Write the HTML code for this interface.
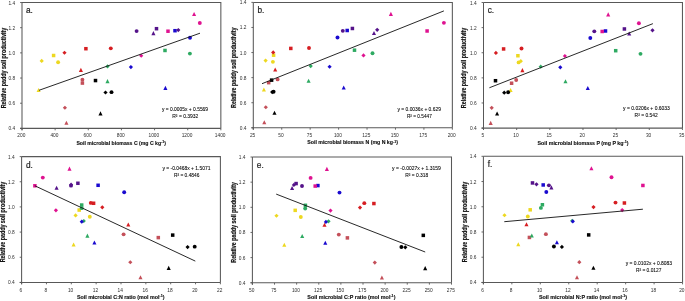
<!DOCTYPE html>
<html><head><meta charset="utf-8"><style>
html,body{margin:0;padding:0;background:#fff;width:685px;height:301px;overflow:hidden}
svg{display:block;will-change:transform;filter:blur(0.25px);font-family:"Liberation Sans",sans-serif}
</style></head><body>
<svg width="685" height="301" viewBox="0 0 685 301">
<rect width="685" height="301" fill="#fff"/>
<path d="M22.00 2.50 H220.85 V128.40" fill="none" stroke="#585858" stroke-width="1.05"/>
<path d="M22.00 2.50 V130.30" fill="none" stroke="#585858" stroke-width="1.05"/>
<path d="M20.10 128.40 H220.85" fill="none" stroke="#585858" stroke-width="1.05"/>
<path d="M20.10 2.50 H22.00" stroke="#585858" stroke-width="0.9"/>
<text x="15.10" y="4.50" font-size="5.6" fill="#2e2e2e" text-anchor="end" textLength="6.69" lengthAdjust="spacingAndGlyphs">1.4</text>
<path d="M20.10 27.68 H22.00" stroke="#585858" stroke-width="0.9"/>
<text x="15.10" y="29.68" font-size="5.6" fill="#2e2e2e" text-anchor="end" textLength="6.69" lengthAdjust="spacingAndGlyphs">1.2</text>
<path d="M20.10 52.86 H22.00" stroke="#585858" stroke-width="0.9"/>
<text x="15.10" y="54.86" font-size="5.6" fill="#2e2e2e" text-anchor="end" textLength="6.69" lengthAdjust="spacingAndGlyphs">1.0</text>
<path d="M20.10 78.04 H22.00" stroke="#585858" stroke-width="0.9"/>
<text x="15.10" y="80.04" font-size="5.6" fill="#2e2e2e" text-anchor="end" textLength="6.69" lengthAdjust="spacingAndGlyphs">0.8</text>
<path d="M20.10 103.22 H22.00" stroke="#585858" stroke-width="0.9"/>
<text x="15.10" y="105.22" font-size="5.6" fill="#2e2e2e" text-anchor="end" textLength="6.69" lengthAdjust="spacingAndGlyphs">0.6</text>
<path d="M20.10 128.40 H22.00" stroke="#585858" stroke-width="0.9"/>
<text x="15.10" y="130.40" font-size="5.6" fill="#2e2e2e" text-anchor="end" textLength="6.69" lengthAdjust="spacingAndGlyphs">0.4</text>
<path d="M22.00 128.40 V130.30" stroke="#585858" stroke-width="0.9"/>
<text x="21.30" y="136.90" font-size="5.6" fill="#2e2e2e" text-anchor="middle" textLength="8.03" lengthAdjust="spacingAndGlyphs">200</text>
<path d="M55.14 128.40 V130.30" stroke="#585858" stroke-width="0.9"/>
<text x="54.44" y="136.90" font-size="5.6" fill="#2e2e2e" text-anchor="middle" textLength="8.03" lengthAdjust="spacingAndGlyphs">400</text>
<path d="M88.28 128.40 V130.30" stroke="#585858" stroke-width="0.9"/>
<text x="87.58" y="136.90" font-size="5.6" fill="#2e2e2e" text-anchor="middle" textLength="8.03" lengthAdjust="spacingAndGlyphs">600</text>
<path d="M121.42 128.40 V130.30" stroke="#585858" stroke-width="0.9"/>
<text x="120.72" y="136.90" font-size="5.6" fill="#2e2e2e" text-anchor="middle" textLength="8.03" lengthAdjust="spacingAndGlyphs">800</text>
<path d="M154.57 128.40 V130.30" stroke="#585858" stroke-width="0.9"/>
<text x="153.87" y="136.90" font-size="5.6" fill="#2e2e2e" text-anchor="middle" textLength="10.71" lengthAdjust="spacingAndGlyphs">1000</text>
<path d="M187.71 128.40 V130.30" stroke="#585858" stroke-width="0.9"/>
<text x="187.01" y="136.90" font-size="5.6" fill="#2e2e2e" text-anchor="middle" textLength="10.71" lengthAdjust="spacingAndGlyphs">1200</text>
<path d="M220.85 128.40 V130.30" stroke="#585858" stroke-width="0.9"/>
<text x="220.15" y="136.90" font-size="5.6" fill="#2e2e2e" text-anchor="middle" textLength="10.71" lengthAdjust="spacingAndGlyphs">1400</text>
<text x="76.40" y="144.80" font-size="5.8" font-weight="bold" fill="#111" stroke="#111" stroke-width="0.14" textLength="89.60" lengthAdjust="spacingAndGlyphs">Soil microbial biomass C (mg C kg<tspan font-size="4.0" dy="-1.7">-1</tspan><tspan dy="1.7">)</tspan></text>
<text transform="translate(5.70,68.05) rotate(-90)" x="0" y="0" font-size="6.3" font-weight="bold" fill="#111" stroke="#111" stroke-width="0.18" text-anchor="middle" textLength="80.5" lengthAdjust="spacingAndGlyphs">Relative paddy soil productivity</text>
<text x="26.00" y="13.00" font-size="8.3" fill="#222" stroke="#222" stroke-width="0.2">a.</text>
<polygon points="38.60,87.89 40.64,91.97 36.56,91.97" fill="#EDD820"/>
<polygon points="41.70,58.82 43.80,60.92 41.70,63.02 39.60,60.92" fill="#EDD820"/>
<rect x="51.85" y="53.75" width="3.50" height="3.50" fill="#EDD820"/>
<circle cx="58.10" cy="62.18" r="1.95" fill="#EDD820"/>
<polygon points="64.50,50.63 66.60,52.73 64.50,54.83 62.40,52.73" fill="#D61E22"/>
<rect x="84.15" y="46.96" width="3.50" height="3.50" fill="#D61E22"/>
<circle cx="110.80" cy="48.33" r="1.95" fill="#D61E22"/>
<polygon points="80.90,67.87 82.94,71.95 78.86,71.95" fill="#D61E22"/>
<circle cx="82.40" cy="79.80" r="1.95" fill="#C4505A"/>
<rect x="80.65" y="81.33" width="3.50" height="3.50" fill="#C4505A"/>
<polygon points="64.90,105.65 67.00,107.75 64.90,109.85 62.80,107.75" fill="#C4505A"/>
<polygon points="66.40,120.75 68.44,124.83 64.36,124.83" fill="#C4505A"/>
<rect x="93.75" y="78.81" width="3.50" height="3.50" fill="#000000"/>
<polygon points="105.50,90.42 107.60,92.52 105.50,94.62 103.40,92.52" fill="#000000"/>
<circle cx="111.50" cy="92.14" r="1.95" fill="#000000"/>
<polygon points="100.50,111.30 102.54,115.39 98.46,115.39" fill="#000000"/>
<polygon points="107.50,64.36 109.60,66.46 107.50,68.56 105.40,66.46" fill="#2EAA62"/>
<polygon points="107.50,79.07 109.54,83.16 105.46,83.16" fill="#2EAA62"/>
<rect x="163.25" y="48.72" width="3.50" height="3.50" fill="#2EAA62"/>
<circle cx="189.90" cy="53.62" r="1.95" fill="#2EAA62"/>
<polygon points="130.90,64.99 133.00,67.09 130.90,69.19 128.80,67.09" fill="#1A0ACF"/>
<circle cx="190.00" cy="37.75" r="1.95" fill="#1A0ACF"/>
<polygon points="165.40,85.87 167.44,89.96 163.36,89.96" fill="#1A0ACF"/>
<rect x="173.25" y="28.95" width="3.50" height="3.50" fill="#1A0ACF"/>
<circle cx="136.60" cy="31.08" r="1.95" fill="#55138A"/>
<polygon points="153.40,31.11 155.44,35.19 151.36,35.19" fill="#55138A"/>
<rect x="154.75" y="26.94" width="3.50" height="3.50" fill="#55138A"/>
<polygon points="178.30,27.97 180.40,30.07 178.30,32.17 176.20,30.07" fill="#55138A"/>
<polygon points="141.20,53.66 143.30,55.76 141.20,57.86 139.10,55.76" fill="#DF1290"/>
<rect x="166.25" y="29.46" width="3.50" height="3.50" fill="#DF1290"/>
<polygon points="194.10,11.97 196.14,16.05 192.06,16.05" fill="#DF1290"/>
<circle cx="199.80" cy="23.02" r="1.95" fill="#DF1290"/>
<line x1="39.0" y1="90.30" x2="200.0" y2="33.20" stroke="#151515" stroke-width="0.92"/>
<text x="161.90" y="111.10" font-size="5.5" fill="#000" stroke="#000" stroke-width="0.08" textLength="46.20" lengthAdjust="spacingAndGlyphs">y = 0.0005x + 0.5569</text>
<text x="172.30" y="118.30" font-size="5.5" fill="#000" stroke="#000" stroke-width="0.08" textLength="26.00" lengthAdjust="spacingAndGlyphs">R² = 0.3932</text>
<path d="M253.30 2.40 H452.35 V127.80" fill="none" stroke="#585858" stroke-width="1.05"/>
<path d="M253.30 2.40 V129.70" fill="none" stroke="#585858" stroke-width="1.05"/>
<path d="M251.40 127.80 H452.35" fill="none" stroke="#585858" stroke-width="1.05"/>
<path d="M251.40 2.40 H253.30" stroke="#585858" stroke-width="0.9"/>
<text x="246.40" y="4.40" font-size="5.6" fill="#2e2e2e" text-anchor="end" textLength="6.69" lengthAdjust="spacingAndGlyphs">1.4</text>
<path d="M251.40 27.48 H253.30" stroke="#585858" stroke-width="0.9"/>
<text x="246.40" y="29.48" font-size="5.6" fill="#2e2e2e" text-anchor="end" textLength="6.69" lengthAdjust="spacingAndGlyphs">1.2</text>
<path d="M251.40 52.56 H253.30" stroke="#585858" stroke-width="0.9"/>
<text x="246.40" y="54.56" font-size="5.6" fill="#2e2e2e" text-anchor="end" textLength="6.69" lengthAdjust="spacingAndGlyphs">1.0</text>
<path d="M251.40 77.64 H253.30" stroke="#585858" stroke-width="0.9"/>
<text x="246.40" y="79.64" font-size="5.6" fill="#2e2e2e" text-anchor="end" textLength="6.69" lengthAdjust="spacingAndGlyphs">0.8</text>
<path d="M251.40 102.72 H253.30" stroke="#585858" stroke-width="0.9"/>
<text x="246.40" y="104.72" font-size="5.6" fill="#2e2e2e" text-anchor="end" textLength="6.69" lengthAdjust="spacingAndGlyphs">0.6</text>
<path d="M251.40 127.80 H253.30" stroke="#585858" stroke-width="0.9"/>
<text x="246.40" y="129.80" font-size="5.6" fill="#2e2e2e" text-anchor="end" textLength="6.69" lengthAdjust="spacingAndGlyphs">0.4</text>
<path d="M253.30 127.80 V129.70" stroke="#585858" stroke-width="0.9"/>
<text x="252.60" y="136.90" font-size="5.6" fill="#2e2e2e" text-anchor="middle" textLength="5.36" lengthAdjust="spacingAndGlyphs">25</text>
<path d="M281.74 127.80 V129.70" stroke="#585858" stroke-width="0.9"/>
<text x="281.04" y="136.90" font-size="5.6" fill="#2e2e2e" text-anchor="middle" textLength="5.36" lengthAdjust="spacingAndGlyphs">50</text>
<path d="M310.17 127.80 V129.70" stroke="#585858" stroke-width="0.9"/>
<text x="309.47" y="136.90" font-size="5.6" fill="#2e2e2e" text-anchor="middle" textLength="5.36" lengthAdjust="spacingAndGlyphs">75</text>
<path d="M338.61 127.80 V129.70" stroke="#585858" stroke-width="0.9"/>
<text x="337.91" y="136.90" font-size="5.6" fill="#2e2e2e" text-anchor="middle" textLength="8.03" lengthAdjust="spacingAndGlyphs">100</text>
<path d="M367.04 127.80 V129.70" stroke="#585858" stroke-width="0.9"/>
<text x="366.34" y="136.90" font-size="5.6" fill="#2e2e2e" text-anchor="middle" textLength="8.03" lengthAdjust="spacingAndGlyphs">125</text>
<path d="M395.48 127.80 V129.70" stroke="#585858" stroke-width="0.9"/>
<text x="394.78" y="136.90" font-size="5.6" fill="#2e2e2e" text-anchor="middle" textLength="8.03" lengthAdjust="spacingAndGlyphs">150</text>
<path d="M423.91 127.80 V129.70" stroke="#585858" stroke-width="0.9"/>
<text x="423.21" y="136.90" font-size="5.6" fill="#2e2e2e" text-anchor="middle" textLength="8.03" lengthAdjust="spacingAndGlyphs">175</text>
<path d="M452.35 127.80 V129.70" stroke="#585858" stroke-width="0.9"/>
<text x="451.65" y="136.90" font-size="5.6" fill="#2e2e2e" text-anchor="middle" textLength="8.03" lengthAdjust="spacingAndGlyphs">200</text>
<text x="307.30" y="144.20" font-size="5.8" font-weight="bold" fill="#111" stroke="#111" stroke-width="0.14" textLength="90.60" lengthAdjust="spacingAndGlyphs">Soil microbial biomass N (mg N kg<tspan font-size="4.0" dy="-1.7">-1</tspan><tspan dy="1.7">)</tspan></text>
<text transform="translate(236.40,67.70) rotate(-90)" x="0" y="0" font-size="6.3" font-weight="bold" fill="#111" stroke="#111" stroke-width="0.18" text-anchor="middle" textLength="80.5" lengthAdjust="spacingAndGlyphs">Relative paddy soil productivity</text>
<text x="257.40" y="12.90" font-size="8.3" fill="#222" stroke="#222" stroke-width="0.2">b.</text>
<polygon points="263.90,87.44 265.94,91.52 261.86,91.52" fill="#EDD820"/>
<polygon points="265.60,58.49 267.70,60.59 265.60,62.69 263.50,60.59" fill="#EDD820"/>
<rect x="271.85" y="53.44" width="3.50" height="3.50" fill="#EDD820"/>
<circle cx="272.90" cy="61.84" r="1.95" fill="#EDD820"/>
<polygon points="273.20,50.33 275.30,52.43 273.20,54.53 271.10,52.43" fill="#D61E22"/>
<rect x="289.05" y="46.67" width="3.50" height="3.50" fill="#D61E22"/>
<circle cx="309.00" cy="48.05" r="1.95" fill="#D61E22"/>
<polygon points="275.20,67.50 277.24,71.59 273.16,71.59" fill="#D61E22"/>
<circle cx="277.60" cy="79.40" r="1.95" fill="#C4505A"/>
<rect x="266.95" y="80.91" width="3.50" height="3.50" fill="#C4505A"/>
<polygon points="265.80,105.13 267.90,107.23 265.80,109.33 263.70,107.23" fill="#C4505A"/>
<polygon points="264.30,120.17 266.34,124.25 262.26,124.25" fill="#C4505A"/>
<rect x="269.85" y="78.40" width="3.50" height="3.50" fill="#000000"/>
<polygon points="272.20,89.96 274.30,92.06 272.20,94.16 270.10,92.06" fill="#000000"/>
<circle cx="273.60" cy="91.68" r="1.95" fill="#000000"/>
<polygon points="274.50,110.76 276.54,114.85 272.46,114.85" fill="#000000"/>
<polygon points="310.70,64.00 312.80,66.10 310.70,68.20 308.60,66.10" fill="#2EAA62"/>
<polygon points="308.60,78.66 310.64,82.75 306.56,82.75" fill="#2EAA62"/>
<rect x="352.75" y="48.43" width="3.50" height="3.50" fill="#2EAA62"/>
<circle cx="372.50" cy="53.31" r="1.95" fill="#2EAA62"/>
<polygon points="329.60,64.63 331.70,66.73 329.60,68.83 327.50,66.73" fill="#1A0ACF"/>
<circle cx="337.50" cy="37.51" r="1.95" fill="#1A0ACF"/>
<polygon points="343.70,85.43 345.74,89.52 341.66,89.52" fill="#1A0ACF"/>
<rect x="345.45" y="28.74" width="3.50" height="3.50" fill="#1A0ACF"/>
<circle cx="342.80" cy="30.87" r="1.95" fill="#55138A"/>
<polygon points="374.00,30.88 376.04,34.97 371.96,34.97" fill="#55138A"/>
<rect x="350.65" y="26.73" width="3.50" height="3.50" fill="#55138A"/>
<polygon points="377.20,27.76 379.30,29.86 377.20,31.96 375.10,29.86" fill="#55138A"/>
<polygon points="363.50,53.34 365.60,55.44 363.50,57.54 361.40,55.44" fill="#DF1290"/>
<rect x="425.35" y="29.24" width="3.50" height="3.50" fill="#DF1290"/>
<polygon points="390.90,11.82 392.94,15.91 388.86,15.91" fill="#DF1290"/>
<circle cx="443.90" cy="22.84" r="1.95" fill="#DF1290"/>
<line x1="262.0" y1="83.70" x2="443.9" y2="10.90" stroke="#151515" stroke-width="0.92"/>
<text x="397.50" y="110.90" font-size="5.5" fill="#000" stroke="#000" stroke-width="0.08" textLength="43.40" lengthAdjust="spacingAndGlyphs">y = 0.0036x + 0.629</text>
<text x="406.90" y="117.70" font-size="5.5" fill="#000" stroke="#000" stroke-width="0.08" textLength="24.90" lengthAdjust="spacingAndGlyphs">R² = 0.5447</text>
<path d="M483.50 2.50 H682.45 V128.10" fill="none" stroke="#585858" stroke-width="1.05"/>
<path d="M483.50 2.50 V130.00" fill="none" stroke="#585858" stroke-width="1.05"/>
<path d="M481.60 128.10 H682.45" fill="none" stroke="#585858" stroke-width="1.05"/>
<path d="M481.60 2.50 H483.50" stroke="#585858" stroke-width="0.9"/>
<text x="476.60" y="4.50" font-size="5.6" fill="#2e2e2e" text-anchor="end" textLength="6.69" lengthAdjust="spacingAndGlyphs">1.4</text>
<path d="M481.60 27.62 H483.50" stroke="#585858" stroke-width="0.9"/>
<text x="476.60" y="29.62" font-size="5.6" fill="#2e2e2e" text-anchor="end" textLength="6.69" lengthAdjust="spacingAndGlyphs">1.2</text>
<path d="M481.60 52.74 H483.50" stroke="#585858" stroke-width="0.9"/>
<text x="476.60" y="54.74" font-size="5.6" fill="#2e2e2e" text-anchor="end" textLength="6.69" lengthAdjust="spacingAndGlyphs">1.0</text>
<path d="M481.60 77.86 H483.50" stroke="#585858" stroke-width="0.9"/>
<text x="476.60" y="79.86" font-size="5.6" fill="#2e2e2e" text-anchor="end" textLength="6.69" lengthAdjust="spacingAndGlyphs">0.8</text>
<path d="M481.60 102.98 H483.50" stroke="#585858" stroke-width="0.9"/>
<text x="476.60" y="104.98" font-size="5.6" fill="#2e2e2e" text-anchor="end" textLength="6.69" lengthAdjust="spacingAndGlyphs">0.6</text>
<path d="M481.60 128.10 H483.50" stroke="#585858" stroke-width="0.9"/>
<text x="476.60" y="130.10" font-size="5.6" fill="#2e2e2e" text-anchor="end" textLength="6.69" lengthAdjust="spacingAndGlyphs">0.4</text>
<path d="M483.50 128.10 V130.00" stroke="#585858" stroke-width="0.9"/>
<text x="482.80" y="136.90" font-size="5.6" fill="#2e2e2e" text-anchor="middle" textLength="2.68" lengthAdjust="spacingAndGlyphs">5</text>
<path d="M516.66 128.10 V130.00" stroke="#585858" stroke-width="0.9"/>
<text x="515.96" y="136.90" font-size="5.6" fill="#2e2e2e" text-anchor="middle" textLength="5.36" lengthAdjust="spacingAndGlyphs">10</text>
<path d="M549.82 128.10 V130.00" stroke="#585858" stroke-width="0.9"/>
<text x="549.12" y="136.90" font-size="5.6" fill="#2e2e2e" text-anchor="middle" textLength="5.36" lengthAdjust="spacingAndGlyphs">15</text>
<path d="M582.98 128.10 V130.00" stroke="#585858" stroke-width="0.9"/>
<text x="582.27" y="136.90" font-size="5.6" fill="#2e2e2e" text-anchor="middle" textLength="5.36" lengthAdjust="spacingAndGlyphs">20</text>
<path d="M616.13 128.10 V130.00" stroke="#585858" stroke-width="0.9"/>
<text x="615.43" y="136.90" font-size="5.6" fill="#2e2e2e" text-anchor="middle" textLength="5.36" lengthAdjust="spacingAndGlyphs">25</text>
<path d="M649.29 128.10 V130.00" stroke="#585858" stroke-width="0.9"/>
<text x="648.59" y="136.90" font-size="5.6" fill="#2e2e2e" text-anchor="middle" textLength="5.36" lengthAdjust="spacingAndGlyphs">30</text>
<path d="M682.45 128.10 V130.00" stroke="#585858" stroke-width="0.9"/>
<text x="681.75" y="136.90" font-size="5.6" fill="#2e2e2e" text-anchor="middle" textLength="5.36" lengthAdjust="spacingAndGlyphs">35</text>
<text x="537.60" y="144.50" font-size="5.8" font-weight="bold" fill="#111" stroke="#111" stroke-width="0.14" textLength="90.90" lengthAdjust="spacingAndGlyphs">Soil microbial biomass P (mg P kg<tspan font-size="4.0" dy="-1.7">-1</tspan><tspan dy="1.7">)</tspan></text>
<text transform="translate(466.30,67.90) rotate(-90)" x="0" y="0" font-size="6.3" font-weight="bold" fill="#111" stroke="#111" stroke-width="0.18" text-anchor="middle" textLength="80.5" lengthAdjust="spacingAndGlyphs">Relative paddy soil productivity</text>
<text x="487.70" y="13.10" font-size="8.3" fill="#222" stroke="#222" stroke-width="0.2">c.</text>
<polygon points="510.60,88.03 512.64,92.11 508.56,92.11" fill="#EDD820"/>
<polygon points="520.80,59.03 522.90,61.13 520.80,63.23 518.70,61.13" fill="#EDD820"/>
<rect x="516.15" y="53.98" width="3.50" height="3.50" fill="#EDD820"/>
<circle cx="518.60" cy="62.38" r="1.95" fill="#EDD820"/>
<polygon points="495.90,50.86 498.00,52.96 495.90,55.06 493.80,52.96" fill="#D61E22"/>
<rect x="501.85" y="47.20" width="3.50" height="3.50" fill="#D61E22"/>
<circle cx="521.50" cy="48.57" r="1.95" fill="#D61E22"/>
<polygon points="522.40,68.06 524.44,72.14 520.36,72.14" fill="#D61E22"/>
<circle cx="516.20" cy="79.97" r="1.95" fill="#C4505A"/>
<rect x="509.85" y="81.48" width="3.50" height="3.50" fill="#C4505A"/>
<polygon points="491.70,105.75 493.80,107.85 491.70,109.95 489.60,107.85" fill="#C4505A"/>
<polygon points="490.70,120.81 492.74,124.89 488.66,124.89" fill="#C4505A"/>
<rect x="493.75" y="78.97" width="3.50" height="3.50" fill="#000000"/>
<polygon points="504.20,90.55 506.30,92.65 504.20,94.75 502.10,92.65" fill="#000000"/>
<circle cx="508.10" cy="92.28" r="1.95" fill="#000000"/>
<polygon points="497.10,111.39 499.14,115.47 495.06,115.47" fill="#000000"/>
<polygon points="540.70,64.55 542.80,66.65 540.70,68.75 538.60,66.65" fill="#2EAA62"/>
<polygon points="565.50,79.24 567.54,83.32 563.46,83.32" fill="#2EAA62"/>
<rect x="613.95" y="48.95" width="3.50" height="3.50" fill="#2EAA62"/>
<circle cx="640.50" cy="53.84" r="1.95" fill="#2EAA62"/>
<polygon points="560.30,65.18 562.40,67.28 560.30,69.38 558.20,67.28" fill="#1A0ACF"/>
<circle cx="590.30" cy="38.02" r="1.95" fill="#1A0ACF"/>
<polygon points="587.80,86.02 589.84,90.10 585.76,90.10" fill="#1A0ACF"/>
<rect x="603.75" y="29.23" width="3.50" height="3.50" fill="#1A0ACF"/>
<circle cx="594.30" cy="31.36" r="1.95" fill="#55138A"/>
<polygon points="629.20,31.38 631.24,35.47 627.16,35.47" fill="#55138A"/>
<rect x="622.65" y="27.22" width="3.50" height="3.50" fill="#55138A"/>
<polygon points="652.50,28.26 654.60,30.36 652.50,32.46 650.40,30.36" fill="#55138A"/>
<polygon points="564.90,53.88 567.00,55.98 564.90,58.08 562.80,55.98" fill="#DF1290"/>
<rect x="600.45" y="29.74" width="3.50" height="3.50" fill="#DF1290"/>
<polygon points="608.20,12.29 610.24,16.38 606.16,16.38" fill="#DF1290"/>
<circle cx="638.90" cy="23.32" r="1.95" fill="#DF1290"/>
<line x1="489.4" y1="87.75" x2="652.9" y2="23.65" stroke="#151515" stroke-width="0.92"/>
<text x="623.10" y="110.20" font-size="5.5" fill="#000" stroke="#000" stroke-width="0.08" textLength="46.80" lengthAdjust="spacingAndGlyphs">y = 0.0206x + 0.6033</text>
<text x="634.60" y="117.00" font-size="5.5" fill="#000" stroke="#000" stroke-width="0.08" textLength="23.20" lengthAdjust="spacingAndGlyphs">R² = 0.542</text>
<path d="M21.60 156.60 H220.40 V282.40" fill="none" stroke="#585858" stroke-width="1.05"/>
<path d="M21.60 156.60 V284.30" fill="none" stroke="#585858" stroke-width="1.05"/>
<path d="M19.70 282.40 H220.40" fill="none" stroke="#585858" stroke-width="1.05"/>
<path d="M19.70 156.60 H21.60" stroke="#585858" stroke-width="0.9"/>
<text x="14.70" y="158.60" font-size="5.6" fill="#2e2e2e" text-anchor="end" textLength="6.69" lengthAdjust="spacingAndGlyphs">1.4</text>
<path d="M19.70 181.76 H21.60" stroke="#585858" stroke-width="0.9"/>
<text x="14.70" y="183.76" font-size="5.6" fill="#2e2e2e" text-anchor="end" textLength="6.69" lengthAdjust="spacingAndGlyphs">1.2</text>
<path d="M19.70 206.92 H21.60" stroke="#585858" stroke-width="0.9"/>
<text x="14.70" y="208.92" font-size="5.6" fill="#2e2e2e" text-anchor="end" textLength="6.69" lengthAdjust="spacingAndGlyphs">1.0</text>
<path d="M19.70 232.08 H21.60" stroke="#585858" stroke-width="0.9"/>
<text x="14.70" y="234.08" font-size="5.6" fill="#2e2e2e" text-anchor="end" textLength="6.69" lengthAdjust="spacingAndGlyphs">0.8</text>
<path d="M19.70 257.24 H21.60" stroke="#585858" stroke-width="0.9"/>
<text x="14.70" y="259.24" font-size="5.6" fill="#2e2e2e" text-anchor="end" textLength="6.69" lengthAdjust="spacingAndGlyphs">0.6</text>
<path d="M19.70 282.40 H21.60" stroke="#585858" stroke-width="0.9"/>
<text x="14.70" y="284.40" font-size="5.6" fill="#2e2e2e" text-anchor="end" textLength="6.69" lengthAdjust="spacingAndGlyphs">0.4</text>
<path d="M21.60 282.40 V284.30" stroke="#585858" stroke-width="0.9"/>
<text x="20.90" y="291.50" font-size="5.6" fill="#2e2e2e" text-anchor="middle" textLength="2.68" lengthAdjust="spacingAndGlyphs">6</text>
<path d="M46.45 282.40 V284.30" stroke="#585858" stroke-width="0.9"/>
<text x="45.75" y="291.50" font-size="5.6" fill="#2e2e2e" text-anchor="middle" textLength="2.68" lengthAdjust="spacingAndGlyphs">8</text>
<path d="M71.30 282.40 V284.30" stroke="#585858" stroke-width="0.9"/>
<text x="70.60" y="291.50" font-size="5.6" fill="#2e2e2e" text-anchor="middle" textLength="5.36" lengthAdjust="spacingAndGlyphs">10</text>
<path d="M96.15 282.40 V284.30" stroke="#585858" stroke-width="0.9"/>
<text x="95.45" y="291.50" font-size="5.6" fill="#2e2e2e" text-anchor="middle" textLength="5.36" lengthAdjust="spacingAndGlyphs">12</text>
<path d="M121.00 282.40 V284.30" stroke="#585858" stroke-width="0.9"/>
<text x="120.30" y="291.50" font-size="5.6" fill="#2e2e2e" text-anchor="middle" textLength="5.36" lengthAdjust="spacingAndGlyphs">14</text>
<path d="M145.85 282.40 V284.30" stroke="#585858" stroke-width="0.9"/>
<text x="145.15" y="291.50" font-size="5.6" fill="#2e2e2e" text-anchor="middle" textLength="5.36" lengthAdjust="spacingAndGlyphs">16</text>
<path d="M170.70 282.40 V284.30" stroke="#585858" stroke-width="0.9"/>
<text x="170.00" y="291.50" font-size="5.6" fill="#2e2e2e" text-anchor="middle" textLength="5.36" lengthAdjust="spacingAndGlyphs">18</text>
<path d="M195.55 282.40 V284.30" stroke="#585858" stroke-width="0.9"/>
<text x="194.85" y="291.50" font-size="5.6" fill="#2e2e2e" text-anchor="middle" textLength="5.36" lengthAdjust="spacingAndGlyphs">20</text>
<path d="M220.40 282.40 V284.30" stroke="#585858" stroke-width="0.9"/>
<text x="219.70" y="291.50" font-size="5.6" fill="#2e2e2e" text-anchor="middle" textLength="5.36" lengthAdjust="spacingAndGlyphs">22</text>
<text x="76.90" y="298.80" font-size="5.8" font-weight="bold" fill="#111" stroke="#111" stroke-width="0.14" textLength="87.60" lengthAdjust="spacingAndGlyphs">Soil microbial C:N ratio (mol mol<tspan font-size="4.0" dy="-1.7">-1</tspan><tspan dy="1.7">)</tspan></text>
<text transform="translate(5.10,222.10) rotate(-90)" x="0" y="0" font-size="6.3" font-weight="bold" fill="#111" stroke="#111" stroke-width="0.18" text-anchor="middle" textLength="80.5" lengthAdjust="spacingAndGlyphs">Relative paddy soil productivity</text>
<text x="26.00" y="167.90" font-size="8.3" fill="#222" stroke="#222" stroke-width="0.2">d.</text>
<polygon points="73.60,242.42 75.64,246.50 71.56,246.50" fill="#EDD820"/>
<polygon points="75.60,213.37 77.70,215.47 75.60,217.57 73.50,215.47" fill="#EDD820"/>
<rect x="77.45" y="208.31" width="3.50" height="3.50" fill="#EDD820"/>
<circle cx="89.80" cy="216.73" r="1.95" fill="#EDD820"/>
<polygon points="102.30,205.19 104.40,207.29 102.30,209.39 100.20,207.29" fill="#D61E22"/>
<rect x="91.85" y="201.52" width="3.50" height="3.50" fill="#D61E22"/>
<circle cx="90.80" cy="202.89" r="1.95" fill="#D61E22"/>
<polygon points="128.30,222.42 130.34,226.50 126.26,226.50" fill="#D61E22"/>
<circle cx="123.60" cy="234.34" r="1.95" fill="#C4505A"/>
<rect x="156.55" y="235.86" width="3.50" height="3.50" fill="#C4505A"/>
<polygon points="130.30,260.17 132.40,262.27 130.30,264.37 128.20,262.27" fill="#C4505A"/>
<polygon points="140.50,275.25 142.54,279.34 138.46,279.34" fill="#C4505A"/>
<rect x="170.95" y="233.35" width="3.50" height="3.50" fill="#000000"/>
<polygon points="187.60,244.95 189.70,247.05 187.60,249.15 185.50,247.05" fill="#000000"/>
<circle cx="194.70" cy="246.67" r="1.95" fill="#000000"/>
<polygon points="168.70,265.82 170.74,269.90 166.66,269.90" fill="#000000"/>
<polygon points="83.80,218.91 85.90,221.01 83.80,223.11 81.70,221.01" fill="#2EAA62"/>
<polygon points="87.40,233.61 89.44,237.70 85.36,237.70" fill="#2EAA62"/>
<rect x="79.95" y="203.28" width="3.50" height="3.50" fill="#2EAA62"/>
<circle cx="81.80" cy="208.17" r="1.95" fill="#2EAA62"/>
<polygon points="81.80,219.54 83.90,221.64 81.80,223.74 79.70,221.64" fill="#1A0ACF"/>
<circle cx="124.20" cy="192.32" r="1.95" fill="#1A0ACF"/>
<polygon points="94.40,240.40 96.44,244.49 92.36,244.49" fill="#1A0ACF"/>
<rect x="96.35" y="183.53" width="3.50" height="3.50" fill="#1A0ACF"/>
<circle cx="71.00" cy="185.66" r="1.95" fill="#55138A"/>
<polygon points="56.60,185.68 58.64,189.77 54.56,189.77" fill="#55138A"/>
<rect x="76.15" y="181.52" width="3.50" height="3.50" fill="#55138A"/>
<polygon points="71.10,182.55 73.20,184.65 71.10,186.75 69.00,184.65" fill="#55138A"/>
<polygon points="55.90,208.21 58.00,210.31 55.90,212.41 53.80,210.31" fill="#DF1290"/>
<rect x="33.15" y="184.03" width="3.50" height="3.50" fill="#DF1290"/>
<polygon points="69.50,166.56 71.54,170.65 67.46,170.65" fill="#DF1290"/>
<circle cx="42.80" cy="177.61" r="1.95" fill="#DF1290"/>
<line x1="34.9" y1="185.80" x2="195.3" y2="261.10" stroke="#151515" stroke-width="0.92"/>
<text x="162.40" y="170.40" font-size="5.5" fill="#000" stroke="#000" stroke-width="0.08" textLength="48.10" lengthAdjust="spacingAndGlyphs">y = -0.0468x + 1.5071</text>
<text x="174.00" y="177.00" font-size="5.5" fill="#000" stroke="#000" stroke-width="0.08" textLength="25.40" lengthAdjust="spacingAndGlyphs">R² = 0.4846</text>
<path d="M252.40 157.00 H451.50 V282.75" fill="none" stroke="#585858" stroke-width="1.05"/>
<path d="M252.40 157.00 V284.65" fill="none" stroke="#585858" stroke-width="1.05"/>
<path d="M250.50 282.75 H451.50" fill="none" stroke="#585858" stroke-width="1.05"/>
<path d="M250.50 157.00 H252.40" stroke="#585858" stroke-width="0.9"/>
<text x="245.50" y="159.00" font-size="5.6" fill="#2e2e2e" text-anchor="end" textLength="6.69" lengthAdjust="spacingAndGlyphs">1.4</text>
<path d="M250.50 182.15 H252.40" stroke="#585858" stroke-width="0.9"/>
<text x="245.50" y="184.15" font-size="5.6" fill="#2e2e2e" text-anchor="end" textLength="6.69" lengthAdjust="spacingAndGlyphs">1.2</text>
<path d="M250.50 207.30 H252.40" stroke="#585858" stroke-width="0.9"/>
<text x="245.50" y="209.30" font-size="5.6" fill="#2e2e2e" text-anchor="end" textLength="6.69" lengthAdjust="spacingAndGlyphs">1.0</text>
<path d="M250.50 232.45 H252.40" stroke="#585858" stroke-width="0.9"/>
<text x="245.50" y="234.45" font-size="5.6" fill="#2e2e2e" text-anchor="end" textLength="6.69" lengthAdjust="spacingAndGlyphs">0.8</text>
<path d="M250.50 257.60 H252.40" stroke="#585858" stroke-width="0.9"/>
<text x="245.50" y="259.60" font-size="5.6" fill="#2e2e2e" text-anchor="end" textLength="6.69" lengthAdjust="spacingAndGlyphs">0.6</text>
<path d="M250.50 282.75 H252.40" stroke="#585858" stroke-width="0.9"/>
<text x="245.50" y="284.75" font-size="5.6" fill="#2e2e2e" text-anchor="end" textLength="6.69" lengthAdjust="spacingAndGlyphs">0.4</text>
<path d="M252.40 282.75 V284.65" stroke="#585858" stroke-width="0.9"/>
<text x="251.70" y="291.50" font-size="5.6" fill="#2e2e2e" text-anchor="middle" textLength="5.36" lengthAdjust="spacingAndGlyphs">50</text>
<path d="M274.52 282.75 V284.65" stroke="#585858" stroke-width="0.9"/>
<text x="273.82" y="291.50" font-size="5.6" fill="#2e2e2e" text-anchor="middle" textLength="5.36" lengthAdjust="spacingAndGlyphs">75</text>
<path d="M296.64 282.75 V284.65" stroke="#585858" stroke-width="0.9"/>
<text x="295.94" y="291.50" font-size="5.6" fill="#2e2e2e" text-anchor="middle" textLength="8.03" lengthAdjust="spacingAndGlyphs">100</text>
<path d="M318.77 282.75 V284.65" stroke="#585858" stroke-width="0.9"/>
<text x="318.07" y="291.50" font-size="5.6" fill="#2e2e2e" text-anchor="middle" textLength="8.03" lengthAdjust="spacingAndGlyphs">125</text>
<path d="M340.89 282.75 V284.65" stroke="#585858" stroke-width="0.9"/>
<text x="340.19" y="291.50" font-size="5.6" fill="#2e2e2e" text-anchor="middle" textLength="8.03" lengthAdjust="spacingAndGlyphs">150</text>
<path d="M363.01 282.75 V284.65" stroke="#585858" stroke-width="0.9"/>
<text x="362.31" y="291.50" font-size="5.6" fill="#2e2e2e" text-anchor="middle" textLength="8.03" lengthAdjust="spacingAndGlyphs">175</text>
<path d="M385.13 282.75 V284.65" stroke="#585858" stroke-width="0.9"/>
<text x="384.43" y="291.50" font-size="5.6" fill="#2e2e2e" text-anchor="middle" textLength="8.03" lengthAdjust="spacingAndGlyphs">200</text>
<path d="M407.26 282.75 V284.65" stroke="#585858" stroke-width="0.9"/>
<text x="406.56" y="291.50" font-size="5.6" fill="#2e2e2e" text-anchor="middle" textLength="8.03" lengthAdjust="spacingAndGlyphs">225</text>
<path d="M429.38 282.75 V284.65" stroke="#585858" stroke-width="0.9"/>
<text x="428.68" y="291.50" font-size="5.6" fill="#2e2e2e" text-anchor="middle" textLength="8.03" lengthAdjust="spacingAndGlyphs">250</text>
<path d="M451.50 282.75 V284.65" stroke="#585858" stroke-width="0.9"/>
<text x="450.80" y="291.50" font-size="5.6" fill="#2e2e2e" text-anchor="middle" textLength="8.03" lengthAdjust="spacingAndGlyphs">275</text>
<text x="307.30" y="299.15" font-size="5.8" font-weight="bold" fill="#111" stroke="#111" stroke-width="0.14" textLength="88.20" lengthAdjust="spacingAndGlyphs">Soil microbial C:P ratio (mol mol<tspan font-size="4.0" dy="-1.7">-1</tspan><tspan dy="1.7">)</tspan></text>
<text transform="translate(236.00,222.47) rotate(-90)" x="0" y="0" font-size="6.3" font-weight="bold" fill="#111" stroke="#111" stroke-width="0.18" text-anchor="middle" textLength="80.5" lengthAdjust="spacingAndGlyphs">Relative paddy soil productivity</text>
<text x="256.80" y="168.00" font-size="8.3" fill="#222" stroke="#222" stroke-width="0.2">e.</text>
<polygon points="284.30,242.68 286.34,246.77 282.26,246.77" fill="#EDD820"/>
<polygon points="276.50,213.65 278.60,215.75 276.50,217.85 274.40,215.75" fill="#EDD820"/>
<rect x="293.45" y="208.59" width="3.50" height="3.50" fill="#EDD820"/>
<circle cx="300.80" cy="217.01" r="1.95" fill="#EDD820"/>
<polygon points="360.00,205.47 362.10,207.57 360.00,209.67 357.90,207.57" fill="#D61E22"/>
<rect x="372.15" y="201.80" width="3.50" height="3.50" fill="#D61E22"/>
<circle cx="364.30" cy="203.17" r="1.95" fill="#D61E22"/>
<polygon points="324.50,222.69 326.54,226.77 322.46,226.77" fill="#D61E22"/>
<circle cx="338.80" cy="234.61" r="1.95" fill="#C4505A"/>
<rect x="345.65" y="236.13" width="3.50" height="3.50" fill="#C4505A"/>
<polygon points="374.80,260.43 376.90,262.53 374.80,264.63 372.70,262.53" fill="#C4505A"/>
<polygon points="381.90,275.50 383.94,279.59 379.86,279.59" fill="#C4505A"/>
<rect x="421.55" y="233.61" width="3.50" height="3.50" fill="#000000"/>
<polygon points="405.30,245.21 407.40,247.31 405.30,249.41 403.20,247.31" fill="#000000"/>
<circle cx="401.40" cy="246.93" r="1.95" fill="#000000"/>
<polygon points="425.20,266.07 427.24,270.16 423.16,270.16" fill="#000000"/>
<polygon points="328.50,219.18 330.60,221.28 328.50,223.38 326.40,221.28" fill="#2EAA62"/>
<polygon points="302.20,233.88 304.24,237.97 300.16,237.97" fill="#2EAA62"/>
<rect x="303.65" y="203.56" width="3.50" height="3.50" fill="#2EAA62"/>
<circle cx="305.20" cy="208.45" r="1.95" fill="#2EAA62"/>
<polygon points="325.90,219.81 328.00,221.91 325.90,224.01 323.80,221.91" fill="#1A0ACF"/>
<circle cx="339.50" cy="192.61" r="1.95" fill="#1A0ACF"/>
<polygon points="325.30,240.67 327.34,244.76 323.26,244.76" fill="#1A0ACF"/>
<rect x="316.15" y="183.82" width="3.50" height="3.50" fill="#1A0ACF"/>
<circle cx="302.00" cy="185.95" r="1.95" fill="#55138A"/>
<polygon points="292.10,185.97 294.14,190.05 290.06,190.05" fill="#55138A"/>
<rect x="294.35" y="181.81" width="3.50" height="3.50" fill="#55138A"/>
<polygon points="293.90,182.84 296.00,184.94 293.90,187.04 291.80,184.94" fill="#55138A"/>
<polygon points="330.50,208.49 332.60,210.59 330.50,212.69 328.40,210.59" fill="#DF1290"/>
<rect x="313.45" y="184.32" width="3.50" height="3.50" fill="#DF1290"/>
<polygon points="326.90,166.86 328.94,170.94 324.86,170.94" fill="#DF1290"/>
<circle cx="310.60" cy="177.90" r="1.95" fill="#DF1290"/>
<line x1="276.2" y1="194.10" x2="425.2" y2="252.00" stroke="#151515" stroke-width="0.92"/>
<text x="392.10" y="170.40" font-size="5.5" fill="#000" stroke="#000" stroke-width="0.08" textLength="48.70" lengthAdjust="spacingAndGlyphs">y = -0.0027x + 1.3159</text>
<text x="405.20" y="177.30" font-size="5.5" fill="#000" stroke="#000" stroke-width="0.08" textLength="23.00" lengthAdjust="spacingAndGlyphs">R² = 0.318</text>
<path d="M483.40 156.30 H682.55 V282.45" fill="none" stroke="#585858" stroke-width="1.05"/>
<path d="M483.40 156.30 V284.35" fill="none" stroke="#585858" stroke-width="1.05"/>
<path d="M481.50 282.45 H682.55" fill="none" stroke="#585858" stroke-width="1.05"/>
<path d="M481.50 156.30 H483.40" stroke="#585858" stroke-width="0.9"/>
<text x="476.50" y="158.30" font-size="5.6" fill="#2e2e2e" text-anchor="end" textLength="6.69" lengthAdjust="spacingAndGlyphs">1.4</text>
<path d="M481.50 181.53 H483.40" stroke="#585858" stroke-width="0.9"/>
<text x="476.50" y="183.53" font-size="5.6" fill="#2e2e2e" text-anchor="end" textLength="6.69" lengthAdjust="spacingAndGlyphs">1.2</text>
<path d="M481.50 206.76 H483.40" stroke="#585858" stroke-width="0.9"/>
<text x="476.50" y="208.76" font-size="5.6" fill="#2e2e2e" text-anchor="end" textLength="6.69" lengthAdjust="spacingAndGlyphs">1.0</text>
<path d="M481.50 231.99 H483.40" stroke="#585858" stroke-width="0.9"/>
<text x="476.50" y="233.99" font-size="5.6" fill="#2e2e2e" text-anchor="end" textLength="6.69" lengthAdjust="spacingAndGlyphs">0.8</text>
<path d="M481.50 257.22 H483.40" stroke="#585858" stroke-width="0.9"/>
<text x="476.50" y="259.22" font-size="5.6" fill="#2e2e2e" text-anchor="end" textLength="6.69" lengthAdjust="spacingAndGlyphs">0.6</text>
<path d="M481.50 282.45 H483.40" stroke="#585858" stroke-width="0.9"/>
<text x="476.50" y="284.45" font-size="5.6" fill="#2e2e2e" text-anchor="end" textLength="6.69" lengthAdjust="spacingAndGlyphs">0.4</text>
<path d="M483.40 282.45 V284.35" stroke="#585858" stroke-width="0.9"/>
<text x="482.70" y="291.50" font-size="5.6" fill="#2e2e2e" text-anchor="middle" textLength="2.68" lengthAdjust="spacingAndGlyphs">6</text>
<path d="M511.85 282.45 V284.35" stroke="#585858" stroke-width="0.9"/>
<text x="511.15" y="291.50" font-size="5.6" fill="#2e2e2e" text-anchor="middle" textLength="2.68" lengthAdjust="spacingAndGlyphs">8</text>
<path d="M540.30 282.45 V284.35" stroke="#585858" stroke-width="0.9"/>
<text x="539.60" y="291.50" font-size="5.6" fill="#2e2e2e" text-anchor="middle" textLength="5.36" lengthAdjust="spacingAndGlyphs">10</text>
<path d="M568.75 282.45 V284.35" stroke="#585858" stroke-width="0.9"/>
<text x="568.05" y="291.50" font-size="5.6" fill="#2e2e2e" text-anchor="middle" textLength="5.36" lengthAdjust="spacingAndGlyphs">12</text>
<path d="M597.20 282.45 V284.35" stroke="#585858" stroke-width="0.9"/>
<text x="596.50" y="291.50" font-size="5.6" fill="#2e2e2e" text-anchor="middle" textLength="5.36" lengthAdjust="spacingAndGlyphs">14</text>
<path d="M625.65 282.45 V284.35" stroke="#585858" stroke-width="0.9"/>
<text x="624.95" y="291.50" font-size="5.6" fill="#2e2e2e" text-anchor="middle" textLength="5.36" lengthAdjust="spacingAndGlyphs">16</text>
<path d="M654.10 282.45 V284.35" stroke="#585858" stroke-width="0.9"/>
<text x="653.40" y="291.50" font-size="5.6" fill="#2e2e2e" text-anchor="middle" textLength="5.36" lengthAdjust="spacingAndGlyphs">18</text>
<path d="M682.55 282.45 V284.35" stroke="#585858" stroke-width="0.9"/>
<text x="681.85" y="291.50" font-size="5.6" fill="#2e2e2e" text-anchor="middle" textLength="5.36" lengthAdjust="spacingAndGlyphs">20</text>
<text x="539.00" y="298.85" font-size="5.8" font-weight="bold" fill="#111" stroke="#111" stroke-width="0.14" textLength="88.00" lengthAdjust="spacingAndGlyphs">Soil microbial N:P ratio (mol mol<tspan font-size="4.0" dy="-1.7">-1</tspan><tspan dy="1.7">)</tspan></text>
<text transform="translate(467.20,221.97) rotate(-90)" x="0" y="0" font-size="6.3" font-weight="bold" fill="#111" stroke="#111" stroke-width="0.18" text-anchor="middle" textLength="80.5" lengthAdjust="spacingAndGlyphs">Relative paddy soil productivity</text>
<text x="487.70" y="167.30" font-size="8.3" fill="#222" stroke="#222" stroke-width="0.2">f.</text>
<polygon points="518.30,242.26 520.34,246.35 516.26,246.35" fill="#EDD820"/>
<polygon points="504.50,213.13 506.60,215.23 504.50,217.33 502.40,215.23" fill="#EDD820"/>
<rect x="528.45" y="208.06" width="3.50" height="3.50" fill="#EDD820"/>
<circle cx="527.80" cy="216.50" r="1.95" fill="#EDD820"/>
<polygon points="593.50,204.93 595.60,207.03 593.50,209.13 591.40,207.03" fill="#D61E22"/>
<rect x="622.65" y="201.25" width="3.50" height="3.50" fill="#D61E22"/>
<circle cx="615.50" cy="202.62" r="1.95" fill="#D61E22"/>
<polygon points="526.50,222.20 528.54,226.29 524.46,226.29" fill="#D61E22"/>
<circle cx="545.90" cy="234.16" r="1.95" fill="#C4505A"/>
<rect x="527.65" y="235.69" width="3.50" height="3.50" fill="#C4505A"/>
<polygon points="579.30,260.06 581.40,262.16 579.30,264.26 577.20,262.16" fill="#C4505A"/>
<polygon points="577.00,275.19 579.04,279.27 574.96,279.27" fill="#C4505A"/>
<rect x="586.95" y="233.16" width="3.50" height="3.50" fill="#000000"/>
<polygon points="561.90,244.80 564.00,246.90 561.90,249.00 559.80,246.90" fill="#000000"/>
<circle cx="553.90" cy="246.52" r="1.95" fill="#000000"/>
<polygon points="593.40,265.73 595.44,269.81 591.36,269.81" fill="#000000"/>
<polygon points="572.20,218.68 574.30,220.78 572.20,222.88 570.10,220.78" fill="#2EAA62"/>
<polygon points="531.80,233.43 533.84,237.52 529.76,237.52" fill="#2EAA62"/>
<rect x="540.65" y="203.01" width="3.50" height="3.50" fill="#2EAA62"/>
<circle cx="540.90" cy="207.92" r="1.95" fill="#2EAA62"/>
<polygon points="572.80,219.31 574.90,221.41 572.80,223.51 570.70,221.41" fill="#1A0ACF"/>
<circle cx="546.30" cy="192.02" r="1.95" fill="#1A0ACF"/>
<polygon points="556.90,240.24 558.94,244.33 554.86,244.33" fill="#1A0ACF"/>
<rect x="541.45" y="183.21" width="3.50" height="3.50" fill="#1A0ACF"/>
<circle cx="548.90" cy="185.34" r="1.95" fill="#55138A"/>
<polygon points="551.40,185.37 553.44,189.45 549.36,189.45" fill="#55138A"/>
<rect x="530.75" y="181.19" width="3.50" height="3.50" fill="#55138A"/>
<polygon points="536.50,182.23 538.60,184.33 536.50,186.43 534.40,184.33" fill="#55138A"/>
<polygon points="622.20,207.96 624.30,210.06 622.20,212.16 620.10,210.06" fill="#DF1290"/>
<rect x="641.15" y="183.71" width="3.50" height="3.50" fill="#DF1290"/>
<polygon points="591.40,166.19 593.44,170.28 589.36,170.28" fill="#DF1290"/>
<circle cx="611.50" cy="177.26" r="1.95" fill="#DF1290"/>
<line x1="504.3" y1="221.70" x2="642.9" y2="209.20" stroke="#151515" stroke-width="0.92"/>
<text x="625.70" y="264.80" font-size="5.5" fill="#000" stroke="#000" stroke-width="0.08" textLength="46.40" lengthAdjust="spacingAndGlyphs">y = 0.0102x + 0.8083</text>
<text x="636.00" y="271.60" font-size="5.5" fill="#000" stroke="#000" stroke-width="0.08" textLength="25.40" lengthAdjust="spacingAndGlyphs">R² = 0.0127</text>
</svg></body></html>
